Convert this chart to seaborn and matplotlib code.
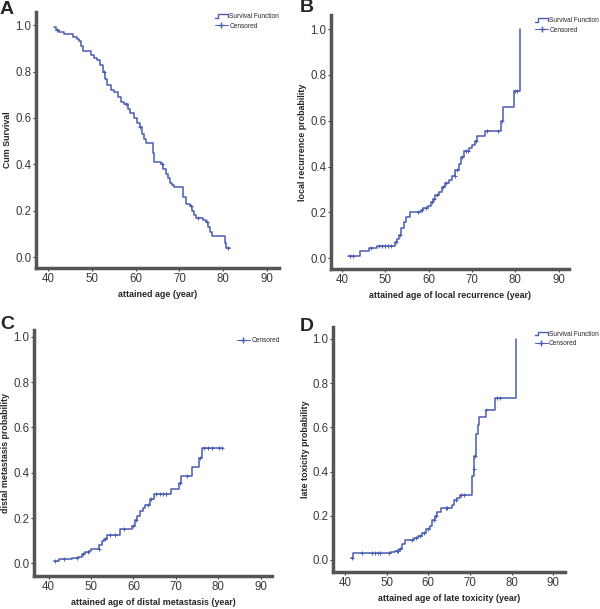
import numpy as np
import pandas as pd
import matplotlib
matplotlib.use('Agg')
import matplotlib.pyplot as plt
import seaborn as sns
from matplotlib.lines import Line2D
from matplotlib.legend_handler import HandlerBase

# ---- data ----
# A: cumulative survival
a_age = [41.4, 41.9, 42.5, 43.6, 45.7, 46.6, 47.0, 47.6, 48.0, 49.8, 50.5, 51.3, 51.9,
         52.5, 53.1, 53.6, 54.4, 55.1, 55.9, 56.6, 57.4, 58.2, 58.8, 59.7, 60.3, 60.9,
         61.5, 62.0, 62.4, 64.0, 64.3, 65.8, 66.3, 66.9, 67.3, 67.8, 68.4, 68.8, 70.9,
         71.4, 72.3, 72.9, 73.4, 73.8, 75.4, 76.1, 76.5, 76.9, 77.4, 80.4, 80.6, 81.5]
a_val = [0.99, 0.98, 0.97, 0.96, 0.95, 0.94, 0.93, 0.91, 0.89, 0.87, 0.86, 0.85, 0.83,
         0.80, 0.77, 0.74, 0.72, 0.71, 0.69, 0.67, 0.66, 0.64, 0.62, 0.60, 0.58, 0.56,
         0.53, 0.51, 0.49, 0.45, 0.41, 0.40, 0.38, 0.36, 0.34, 0.32, 0.31, 0.30, 0.26,
         0.23, 0.22, 0.20, 0.18, 0.17, 0.16, 0.15, 0.13, 0.11, 0.09, 0.06, 0.04, 0.04]
a_cens = [42.0, 52.8, 57.8, 61.1, 66.0, 72.6, 74.2, 76.2, 81.0]

# B: local recurrence probability
b_age = [41.4, 44.2, 46.2, 48.0, 52.2, 52.7, 53.2, 53.7, 54.2, 54.8, 55.6, 58.2, 58.8,
         59.8, 60.5, 61.0, 61.5, 62.5, 63.1, 63.7, 64.8, 65.5, 66.2, 67.0, 67.5, 68.2,
         69.3, 70.0, 70.8, 71.2, 73.0, 76.8, 77.1, 79.7, 81.2]
b_val = [0.01, 0.03, 0.045, 0.055, 0.07, 0.085, 0.10, 0.13, 0.16, 0.18, 0.20, 0.21, 0.22,
         0.23, 0.245, 0.26, 0.275, 0.29, 0.31, 0.33, 0.34, 0.36, 0.385, 0.41, 0.44, 0.47,
         0.48, 0.495, 0.51, 0.535, 0.555, 0.60, 0.66, 0.73, 1.0]
b_cens = [41.8, 42.6, 46.8, 48.5, 49.3, 50.0, 50.7, 51.4, 52.5, 53.4, 57.5, 58.5, 59.3,
          60.8, 61.3, 62.0, 63.4, 64.0, 66.0, 66.6, 67.8, 68.6, 69.0, 71.0, 73.4, 76.0,
          76.9, 80.0, 80.5]

# C: distal metastasis probability
c_age = [41.2, 42.5, 45.5, 47.0, 47.8, 48.5, 49.5, 50.0, 52.0, 52.5, 53.0, 53.8, 56.8,
         59.6, 60.3, 60.8, 61.5, 62.2, 62.8, 64.0, 64.8, 68.8, 70.8, 71.3, 73.8, 75.5,
         76.3, 81.2]
c_val = [0.01, 0.018, 0.025, 0.03, 0.04, 0.05, 0.055, 0.065, 0.08, 0.10, 0.11, 0.125, 0.15,
         0.165, 0.19, 0.21, 0.23, 0.245, 0.26, 0.285, 0.305, 0.33, 0.355, 0.385, 0.425, 0.465,
         0.51, 0.51]
c_cens = [41.6, 43.6, 46.8, 48.2, 49.3, 51.8, 53.2, 54.6, 55.6, 57.8, 60.0, 60.6, 63.5,
          64.2, 65.3, 66.2, 67.0, 67.8, 71.0, 72.6, 75.8, 76.6, 77.5, 78.5, 80.2, 80.8]

# D: late toxicity probability
d_age = [41.4, 42.0, 51.0, 52.0, 53.0, 53.8, 54.5, 56.5, 57.5, 58.5, 59.5, 60.5, 61.0,
         61.6, 62.2, 63.0, 65.6, 66.2, 67.0, 67.6, 70.5, 70.9, 71.1, 71.5, 71.9, 72.3,
         73.8, 76.0, 81.0]
d_val = [0.01, 0.03, 0.035, 0.04, 0.05, 0.07, 0.09, 0.10, 0.11, 0.12, 0.14, 0.155, 0.18,
         0.20, 0.215, 0.235, 0.25, 0.27, 0.28, 0.295, 0.38, 0.41, 0.47, 0.57, 0.61, 0.645,
         0.68, 0.735, 1.0]
d_cens = [41.7, 44.0, 46.5, 47.2, 47.8, 48.4, 50.5, 52.4, 52.8, 53.3, 56.2, 57.0, 58.0,
          59.0, 60.0, 61.3, 61.8, 64.2, 64.6, 66.6, 67.8, 68.6, 71.0, 71.3, 73.8, 76.5,
          77.2]

panels = [
    ('A', a_age, a_val, a_cens, 'attained age (year)', 'Cum Survival', True),
    ('B', b_age, b_val, b_cens, 'attained age of local recurrence (year)',
     'local recurrence probability', True),
    ('C', c_age, c_val, c_cens, 'attained age of distal metastasis (year)',
     'distal metastasis probability', False),
    ('D', d_age, d_val, d_cens, 'attained age of late toxicity (year)',
     'late toxicity probability', True),
]

# layout in figure fractions, axis limits
boxes = [[0.060, 0.560, 0.405, 0.420],
         [0.552, 0.558, 0.397, 0.417],
         [0.057, 0.054, 0.397, 0.404],
         [0.555, 0.061, 0.387, 0.402]]
xlims = [(37.3, 92.7), (37.5, 92.5), (36.6, 92.8), (37.1, 92.9)]
ylims = [(-0.047, 1.056), (-0.048, 1.061), (-0.056, 1.03), (-0.054, 1.054)]
letter_pos = [(0.0, 0.998), (0.499, 1.002), (0.0, 0.481), (0.499, 0.478)]
legend_anchor = [(1.0, 0.995), (1.125, 0.992), (1.03, 0.972), (1.145, 0.984)]

sns.set_theme(style='white')
plt.rcParams['font.family'] = ['Liberation Sans', 'DejaVu Sans']

line_col = '#4a5cb3'
spine_col = '#555555'


class StepHandler(HandlerBase):
    # little step-shaped glyph like the SPSS legend
    def create_artists(self, legend, orig, xd, yd, w, h, fontsize, trans):
        xs = [xd, xd + 0.25 * w, xd + 0.25 * w, xd + w, xd + w]
        ys = [yd + 0.1 * h, yd + 0.1 * h, yd + 0.9 * h, yd + 0.9 * h, yd + 0.3 * h]
        ln = Line2D(xs, ys, color=orig.get_color(), lw=orig.get_linewidth())
        ln.set_transform(trans)
        return [ln]


fig = plt.figure(figsize=(6.0, 6.09), dpi=100)

for i, (letter, age, val, cens, xl, yl, show_surv) in enumerate(panels):
    ax = fig.add_axes(boxes[i])
    df = pd.DataFrame({'age': age, 'p': val})
    sns.lineplot(data=df, x='age', y='p', ax=ax, color=line_col, lw=1.1,
                 drawstyle='steps-post', estimator=None, sort=False)
    idx = np.searchsorted(age, cens, side='right') - 1
    cdf = pd.DataFrame({'age': cens, 'p': np.array(val)[idx]})
    sns.scatterplot(data=cdf, x='age', y='p', ax=ax, marker='+', s=12,
                    color=line_col, linewidth=0.7, zorder=3)

    ax.set_xlim(*xlims[i])
    ax.set_ylim(*ylims[i])
    ax.set_xticks([40, 50, 60, 70, 80, 90])
    ax.set_yticks([0.0, 0.2, 0.4, 0.6, 0.8, 1.0])
    ax.set_yticklabels(['0.0', '0.2', '0.4', '0.6', '0.8', '1.0'])
    ax.tick_params(axis='both', labelsize=8.3, colors='#3a3a3a', length=2,
                   width=0.8, direction='out', pad=1.5, left=True, bottom=True)
    for s in ['top', 'right']:
        ax.spines[s].set_visible(False)
    for s in ['left', 'bottom']:
        ax.spines[s].set_color(spine_col)
        ax.spines[s].set_linewidth(2.5)
    ax.set_xlabel(xl, fontsize=6.4, fontweight='bold', labelpad=3.5)
    ax.set_ylabel(yl, fontsize=6.4, fontweight='bold')
    ax.yaxis.set_label_coords(-0.1, 0.5)

    handles, labels, hmap = [], [], {}
    if show_surv:
        h_surv = Line2D([], [], color=line_col, lw=1.0)
        handles.append(h_surv)
        labels.append('Survival Function')
        hmap[h_surv] = StepHandler()
    handles.append(Line2D([], [], color=line_col, lw=0.7, marker='+', markersize=5))
    labels.append('Censored')
    ax.legend(handles, labels, handler_map=hmap, loc='upper right',
              bbox_to_anchor=legend_anchor[i], fontsize=4.7, frameon=False,
              handlelength=2.0, handletextpad=0.2, labelspacing=0.35,
              borderaxespad=0, borderpad=0)

    fig.text(letter_pos[i][0], letter_pos[i][1], letter, fontsize=14,
             fontweight='bold', va='top', ha='left')

plt.savefig('out.png', dpi=100)
plt.close()
